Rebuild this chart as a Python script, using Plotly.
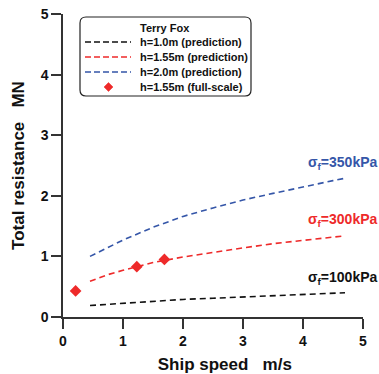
import plotly.graph_objects as go

# Predicted total resistance (MN) vs ship speed (m/s) for three ice thicknesses
speed_pred = [0.45, 0.75, 1.0, 1.5, 2.0, 2.5, 3.0, 3.5, 4.0, 4.5, 4.7]
res_h100 = [0.19, 0.21, 0.23, 0.26, 0.29, 0.31, 0.33, 0.35, 0.37, 0.39, 0.40]
res_h155 = [0.59, 0.70, 0.77, 0.90, 0.99, 1.07, 1.14, 1.21, 1.26, 1.31, 1.34]
res_h200 = [1.00, 1.15, 1.27, 1.48, 1.66, 1.80, 1.93, 2.04, 2.15, 2.25, 2.29]

# Full-scale measurements, h = 1.55 m
speed_fs = [0.21, 1.23, 1.69]
res_fs = [0.43, 0.83, 0.95]

legend_title = "Terry Fox"
legend_names = ["h=1.0m (prediction)", "h=1.55m (prediction)",
                "h=2.0m (prediction)", "h=1.55m (full-scale)"]
strength_labels = ["σ<sub>f</sub>=100kPa", "σ<sub>f</sub>=300kPa", "σ<sub>f</sub>=350kPa"]
strength_pos = [(4.08, 0.64), (4.08, 1.60), (4.08, 2.54)]

BLACK = "#111111"
RED = "#ee2a2a"
BLUE = "#3556a8"
FONT = "Liberation Sans, Arial, sans-serif"
DASH = "6px,4px"

fig = go.Figure()
series = [(res_h100, BLACK, legend_names[0]),
          (res_h155, RED, legend_names[1]),
          (res_h200, BLUE, legend_names[2])]
for vals, col, name in series:
    fig.add_trace(go.Scatter(x=speed_pred, y=vals, mode="lines", name=name,
                             line=dict(color=col, width=1.6, dash=DASH)))
fig.add_trace(go.Scatter(x=speed_fs, y=res_fs, mode="markers", name=legend_names[3],
                         marker=dict(symbol="diamond", size=9, color=RED)))

for txt, (ax, ay), c in zip(strength_labels, strength_pos, [BLACK, RED, BLUE]):
    fig.add_annotation(x=ax, y=ay, xref="x", yref="y", text=txt, showarrow=False,
                       xanchor="left", yanchor="middle", xshift=-2,
                       font=dict(family=FONT, size=14, color=c, weight="bold"))

# ---- hand-built legend box (pixel layout converted to paper coordinates) ----
W, H = 300.0, 303.0
def px(x):
    return (x - 63.0) / W
def py(y):
    return (317.0 - y) / H

x0, x1, y0, y1, r = 80.0, 251.0, 17.0, 96.0, 6.0
path = (f"M {px(x0 + r)},{py(y0)} L {px(x1 - r)},{py(y0)} "
        f"Q {px(x1)},{py(y0)} {px(x1)},{py(y0 + r)} L {px(x1)},{py(y1 - r)} "
        f"Q {px(x1)},{py(y1)} {px(x1 - r)},{py(y1)} L {px(x0 + r)},{py(y1)} "
        f"Q {px(x0)},{py(y1)} {px(x0)},{py(y1 - r)} L {px(x0)},{py(y0 + r)} "
        f"Q {px(x0)},{py(y0)} {px(x0 + r)},{py(y0)} Z")
fig.add_shape(type="path", path=path, xref="paper", yref="paper",
              line=dict(color="#222222", width=1.2), fillcolor="rgba(0,0,0,0)")

leg_font = dict(family=FONT, size=11, color=BLACK, weight="bold")
fig.add_annotation(x=px(165), y=py(28), xref="paper", yref="paper", text=legend_title,
                   showarrow=False, xanchor="center", yanchor="middle", font=leg_font)
row_y = [42, 57, 72, 87]
for i, (name, yy) in enumerate(zip(legend_names, row_y)):
    if i < 3:
        fig.add_shape(type="line", xref="paper", yref="paper",
                      x0=px(85), x1=px(131), y0=py(yy), y1=py(yy),
                      line=dict(color=series[i][1], width=1.6, dash="6px,3px"))
    else:
        d = 4.5
        cx = 108.5
        fig.add_shape(type="path", xref="paper", yref="paper",
                      path=(f"M {px(cx)},{py(yy - d)} L {px(cx + d)},{py(yy)} "
                            f"L {px(cx)},{py(yy + d)} L {px(cx - d)},{py(yy)} Z"),
                      line=dict(color=RED, width=0.5), fillcolor=RED)
    fig.add_annotation(x=px(138), y=py(yy), xref="paper", yref="paper", text=name,
                       showarrow=False, xanchor="left", yanchor="middle", font=leg_font)

tick_font = dict(family=FONT, size=14, color=BLACK, weight="bold")
title_font = dict(family=FONT, size=17, color=BLACK, weight="bold")

fig.update_layout(
    width=379, height=374,
    margin=dict(l=63, r=16, t=14, b=57),
    paper_bgcolor="white", plot_bgcolor="white",
    showlegend=False,
    xaxis=dict(range=[0, 5], dtick=1, showgrid=False, zeroline=False, automargin=False,
               showline=True, linecolor="#333333", linewidth=1.5,
               ticks="outside", ticklen=10, tickwidth=1.5, tickcolor="#333333",
               tickfont=tick_font,
               title=dict(text="&nbsp;&nbsp;&nbsp;&nbsp;&nbsp;Ship speed&nbsp;&nbsp;&nbsp;m/s",
                          font=title_font, standoff=22)),
    yaxis=dict(range=[0, 5], dtick=1, showgrid=False, zeroline=False, automargin=False,
               showline=True, linecolor="#333333", linewidth=1.5,
               ticks="outside", ticklen=10, tickwidth=1.5, tickcolor="#333333",
               tickfont=tick_font,
               title=dict(text="Total resistance&nbsp;&nbsp;&nbsp;MN", font=title_font,
                          standoff=12)),
)

fig.write_html("out.html")
